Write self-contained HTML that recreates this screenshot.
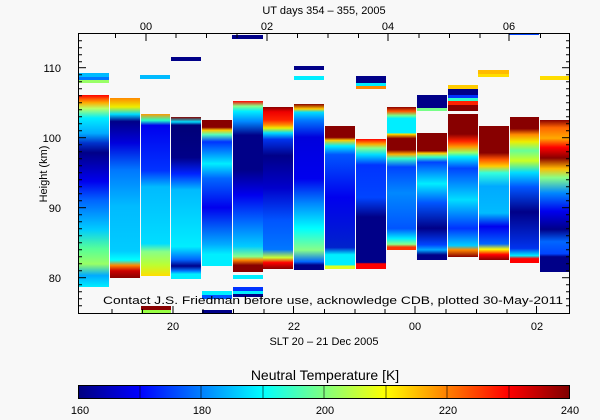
<!DOCTYPE html>
<html><head><meta charset="utf-8"><style>
html,body{margin:0;padding:0;background:#f8f8f8;}
svg{display:block;font-family:"Liberation Sans",sans-serif;}
</style></head><body>
<svg width="600" height="420" viewBox="0 0 600 420" xmlns="http://www.w3.org/2000/svg">
<defs>
<linearGradient id="jet" x1="0" x2="1" y1="0" y2="0">
<stop offset="0" stop-color="#00007f"/><stop offset="0.125" stop-color="#0000ff"/><stop offset="0.25" stop-color="#0080ff"/><stop offset="0.375" stop-color="#00ffff"/><stop offset="0.5" stop-color="#80ff80"/><stop offset="0.625" stop-color="#ffff00"/><stop offset="0.75" stop-color="#ff8000"/><stop offset="0.875" stop-color="#ff0000"/><stop offset="1" stop-color="#7f0000"/>
</linearGradient>
<linearGradient id="c1" gradientUnits="userSpaceOnUse" x1="0" y1="95" x2="0" y2="287"><stop offset="0" stop-color="#f00"/><stop offset="0.04" stop-color="#fa0"/><stop offset="0.07" stop-color="#bf6"/><stop offset="0.12" stop-color="#0ef"/><stop offset="0.2" stop-color="#0af"/><stop offset="0.25" stop-color="#03c"/><stop offset="0.3" stop-color="#008"/><stop offset="0.45" stop-color="#00e"/><stop offset="0.55" stop-color="#06f"/><stop offset="0.7" stop-color="#0cf"/><stop offset="0.8" stop-color="#5f9"/><stop offset="0.88" stop-color="#9f6"/><stop offset="0.94" stop-color="#0af"/><stop offset="1" stop-color="#0ef"/></linearGradient>
<linearGradient id="c2" gradientUnits="userSpaceOnUse" x1="0" y1="98" x2="0" y2="278"><stop offset="0" stop-color="#f80"/><stop offset="0.05" stop-color="#ee0"/><stop offset="0.09" stop-color="#0df"/><stop offset="0.13" stop-color="#008"/><stop offset="0.25" stop-color="#00d"/><stop offset="0.4" stop-color="#07f"/><stop offset="0.6" stop-color="#0bf"/><stop offset="0.85" stop-color="#0cf"/><stop offset="0.9" stop-color="#0ff"/><stop offset="0.93" stop-color="#f80"/><stop offset="0.96" stop-color="#c00"/><stop offset="1" stop-color="#800"/></linearGradient>
<linearGradient id="c3" gradientUnits="userSpaceOnUse" x1="0" y1="114" x2="0" y2="276"><stop offset="0" stop-color="#f90"/><stop offset="0.04" stop-color="#2fc"/><stop offset="0.07" stop-color="#00e"/><stop offset="0.35" stop-color="#03f"/><stop offset="0.45" stop-color="#0bf"/><stop offset="0.8" stop-color="#0df"/><stop offset="0.85" stop-color="#8f8"/><stop offset="0.93" stop-color="#bf3"/><stop offset="1" stop-color="#fd0"/></linearGradient>
<linearGradient id="c4" gradientUnits="userSpaceOnUse" x1="0" y1="117" x2="0" y2="279"><stop offset="0" stop-color="#800"/><stop offset="0.03" stop-color="#0df"/><stop offset="0.05" stop-color="#007"/><stop offset="0.25" stop-color="#008"/><stop offset="0.35" stop-color="#02f"/><stop offset="0.45" stop-color="#0bf"/><stop offset="0.8" stop-color="#0ef"/><stop offset="0.88" stop-color="#06f"/><stop offset="0.92" stop-color="#008"/><stop offset="0.95" stop-color="#07f"/><stop offset="0.97" stop-color="#0ef"/><stop offset="1" stop-color="#0ef"/></linearGradient>
<linearGradient id="c5" gradientUnits="userSpaceOnUse" x1="0" y1="120" x2="0" y2="266"><stop offset="0" stop-color="#800"/><stop offset="0.05" stop-color="#800"/><stop offset="0.07" stop-color="#fc0"/><stop offset="0.1" stop-color="#5fb"/><stop offset="0.15" stop-color="#03f"/><stop offset="0.22" stop-color="#08f"/><stop offset="0.3" stop-color="#0ef"/><stop offset="0.4" stop-color="#06f"/><stop offset="0.6" stop-color="#00e"/><stop offset="0.85" stop-color="#0af"/><stop offset="0.92" stop-color="#0ef"/><stop offset="1" stop-color="#0ef"/></linearGradient>
<linearGradient id="c6" gradientUnits="userSpaceOnUse" x1="0" y1="101" x2="0" y2="272"><stop offset="0" stop-color="#f00"/><stop offset="0.03" stop-color="#8f8"/><stop offset="0.06" stop-color="#0ef"/><stop offset="0.12" stop-color="#08f"/><stop offset="0.2" stop-color="#008"/><stop offset="0.4" stop-color="#008"/><stop offset="0.55" stop-color="#00e"/><stop offset="0.7" stop-color="#06f"/><stop offset="0.85" stop-color="#0cf"/><stop offset="0.91" stop-color="#8f8"/><stop offset="0.93" stop-color="#f80"/><stop offset="0.96" stop-color="#800"/><stop offset="1" stop-color="#800"/></linearGradient>
<linearGradient id="c7" gradientUnits="userSpaceOnUse" x1="0" y1="107" x2="0" y2="269"><stop offset="0" stop-color="#800"/><stop offset="0.03" stop-color="#e00"/><stop offset="0.08" stop-color="#f20"/><stop offset="0.11" stop-color="#f80"/><stop offset="0.13" stop-color="#ee0"/><stop offset="0.16" stop-color="#0df"/><stop offset="0.2" stop-color="#03e"/><stop offset="0.3" stop-color="#008"/><stop offset="0.5" stop-color="#00c"/><stop offset="0.7" stop-color="#05f"/><stop offset="0.88" stop-color="#07f"/><stop offset="0.93" stop-color="#cf3"/><stop offset="0.96" stop-color="#f00"/><stop offset="1" stop-color="#800"/></linearGradient>
<linearGradient id="c8" gradientUnits="userSpaceOnUse" x1="0" y1="104" x2="0" y2="270"><stop offset="0" stop-color="#800"/><stop offset="0.03" stop-color="#fc0"/><stop offset="0.05" stop-color="#0df"/><stop offset="0.1" stop-color="#07f"/><stop offset="0.2" stop-color="#00d"/><stop offset="0.45" stop-color="#00e"/><stop offset="0.6" stop-color="#08f"/><stop offset="0.75" stop-color="#0ff"/><stop offset="0.88" stop-color="#8f8"/><stop offset="0.95" stop-color="#06f"/><stop offset="0.97" stop-color="#008"/><stop offset="1" stop-color="#008"/></linearGradient>
<linearGradient id="c9" gradientUnits="userSpaceOnUse" x1="0" y1="126" x2="0" y2="269"><stop offset="0" stop-color="#800"/><stop offset="0.08" stop-color="#800"/><stop offset="0.1" stop-color="#fc0"/><stop offset="0.14" stop-color="#0ef"/><stop offset="0.2" stop-color="#05f"/><stop offset="0.5" stop-color="#00e"/><stop offset="0.85" stop-color="#02c"/><stop offset="0.9" stop-color="#0ef"/><stop offset="0.97" stop-color="#0ef"/><stop offset="0.98" stop-color="#df2"/><stop offset="1" stop-color="#df2"/></linearGradient>
<linearGradient id="c10" gradientUnits="userSpaceOnUse" x1="0" y1="139" x2="0" y2="269"><stop offset="0" stop-color="#f00"/><stop offset="0.04" stop-color="#fa0"/><stop offset="0.07" stop-color="#8f8"/><stop offset="0.12" stop-color="#0df"/><stop offset="0.2" stop-color="#03f"/><stop offset="0.45" stop-color="#04f"/><stop offset="0.6" stop-color="#008"/><stop offset="0.95" stop-color="#008"/><stop offset="0.96" stop-color="#f00"/><stop offset="1" stop-color="#f00"/></linearGradient>
<linearGradient id="c11" gradientUnits="userSpaceOnUse" x1="0" y1="107" x2="0" y2="250"><stop offset="0" stop-color="#800"/><stop offset="0.03" stop-color="#f50"/><stop offset="0.06" stop-color="#7f8"/><stop offset="0.08" stop-color="#0ef"/><stop offset="0.18" stop-color="#0ef"/><stop offset="0.19" stop-color="#fd0"/><stop offset="0.22" stop-color="#800"/><stop offset="0.3" stop-color="#800"/><stop offset="0.33" stop-color="#fa0"/><stop offset="0.36" stop-color="#3fc"/><stop offset="0.42" stop-color="#04f"/><stop offset="0.6" stop-color="#08f"/><stop offset="0.85" stop-color="#05f"/><stop offset="0.92" stop-color="#0ef"/><stop offset="0.96" stop-color="#8f8"/><stop offset="0.98" stop-color="#f30"/><stop offset="1" stop-color="#f30"/></linearGradient>
<linearGradient id="c12" gradientUnits="userSpaceOnUse" x1="0" y1="133" x2="0" y2="260"><stop offset="0" stop-color="#800"/><stop offset="0.14" stop-color="#800"/><stop offset="0.16" stop-color="#fc0"/><stop offset="0.19" stop-color="#3fc"/><stop offset="0.23" stop-color="#04f"/><stop offset="0.4" stop-color="#0ef"/><stop offset="0.55" stop-color="#05f"/><stop offset="0.75" stop-color="#008"/><stop offset="0.88" stop-color="#04f"/><stop offset="0.92" stop-color="#0af"/><stop offset="0.96" stop-color="#008"/><stop offset="1" stop-color="#008"/></linearGradient>
<linearGradient id="c13" gradientUnits="userSpaceOnUse" x1="0" y1="114" x2="0" y2="257"><stop offset="0" stop-color="#800"/><stop offset="0.14" stop-color="#800"/><stop offset="0.19" stop-color="#f20"/><stop offset="0.23" stop-color="#f90"/><stop offset="0.27" stop-color="#9f6"/><stop offset="0.3" stop-color="#0ef"/><stop offset="0.38" stop-color="#04f"/><stop offset="0.6" stop-color="#0df"/><stop offset="0.8" stop-color="#03f"/><stop offset="0.92" stop-color="#0cf"/><stop offset="0.95" stop-color="#f80"/><stop offset="1" stop-color="#800"/></linearGradient>
<linearGradient id="c14" gradientUnits="userSpaceOnUse" x1="0" y1="126" x2="0" y2="260"><stop offset="0" stop-color="#800"/><stop offset="0.2" stop-color="#800"/><stop offset="0.25" stop-color="#f50"/><stop offset="0.3" stop-color="#fc0"/><stop offset="0.35" stop-color="#3fd"/><stop offset="0.45" stop-color="#0af"/><stop offset="0.65" stop-color="#0bf"/><stop offset="0.75" stop-color="#00e"/><stop offset="0.88" stop-color="#06f"/><stop offset="0.92" stop-color="#ff0"/><stop offset="0.96" stop-color="#f00"/><stop offset="1" stop-color="#800"/></linearGradient>
<linearGradient id="c15" gradientUnits="userSpaceOnUse" x1="0" y1="117" x2="0" y2="263"><stop offset="0" stop-color="#800"/><stop offset="0.08" stop-color="#800"/><stop offset="0.12" stop-color="#f80"/><stop offset="0.17" stop-color="#ee0"/><stop offset="0.23" stop-color="#6f9"/><stop offset="0.3" stop-color="#cf2"/><stop offset="0.38" stop-color="#0df"/><stop offset="0.48" stop-color="#05f"/><stop offset="0.65" stop-color="#008"/><stop offset="0.9" stop-color="#03e"/><stop offset="0.95" stop-color="#0ef"/><stop offset="0.97" stop-color="#f00"/><stop offset="1" stop-color="#f00"/></linearGradient>
<linearGradient id="c16" gradientUnits="userSpaceOnUse" x1="0" y1="120" x2="0" y2="272"><stop offset="0" stop-color="#800"/><stop offset="0.05" stop-color="#f60"/><stop offset="0.12" stop-color="#fa0"/><stop offset="0.18" stop-color="#f00"/><stop offset="0.25" stop-color="#800"/><stop offset="0.32" stop-color="#fb0"/><stop offset="0.38" stop-color="#8f8"/><stop offset="0.48" stop-color="#08f"/><stop offset="0.6" stop-color="#00e"/><stop offset="0.72" stop-color="#008"/><stop offset="0.8" stop-color="#06f"/><stop offset="0.88" stop-color="#04f"/><stop offset="0.9" stop-color="#008"/><stop offset="1" stop-color="#008"/></linearGradient>
</defs>
<rect width="600" height="420" fill="#f8f8f8"/>
<g>
<rect x="78" y="95" width="31" height="192" fill="url(#c1)"/>
<rect x="110" y="98" width="30" height="180" fill="url(#c2)"/>
<rect x="141" y="114" width="29" height="162" fill="url(#c3)"/>
<rect x="171" y="117" width="30" height="162" fill="url(#c4)"/>
<rect x="202" y="120" width="30" height="146" fill="url(#c5)"/>
<rect x="233" y="101" width="30" height="171" fill="url(#c6)"/>
<rect x="263" y="107" width="30" height="162" fill="url(#c7)"/>
<rect x="294" y="104" width="30" height="166" fill="url(#c8)"/>
<rect x="325" y="126" width="30" height="143" fill="url(#c9)"/>
<rect x="356" y="139" width="30" height="130" fill="url(#c10)"/>
<rect x="387" y="107" width="29" height="143" fill="url(#c11)"/>
<rect x="417" y="133" width="30" height="127" fill="url(#c12)"/>
<rect x="448" y="114" width="30" height="143" fill="url(#c13)"/>
<rect x="479" y="126" width="30" height="134" fill="url(#c14)"/>
<rect x="510" y="117" width="29" height="146" fill="url(#c15)"/>
<rect x="540" y="120" width="30" height="152" fill="url(#c16)"/>
<rect x="78" y="73" width="31" height="4" fill="#0bf"/><rect x="78" y="77" width="31" height="3" fill="#07f"/><rect x="78" y="80" width="31" height="3" fill="#9f6"/>
<rect x="140" y="75" width="30" height="4" fill="#0bf"/>
<rect x="171" y="57" width="30" height="4" fill="#008"/>
<rect x="232" y="35" width="31" height="4" fill="#008"/>
<rect x="294" y="66" width="30" height="4" fill="#008"/><rect x="294" y="76" width="30" height="4" fill="#0ef"/>
<rect x="356" y="76" width="30" height="7" fill="#008"/><rect x="356" y="83" width="30" height="3" fill="#0ef"/><rect x="356" y="86" width="30" height="3" fill="#f80"/>
<rect x="417" y="95" width="30" height="13" fill="#008"/><rect x="417" y="108" width="30" height="3" fill="#7f8"/>
<rect x="448" y="85" width="30" height="4" fill="#fc0"/><rect x="448" y="89" width="30" height="6" fill="#008"/><rect x="448" y="95" width="30" height="3" fill="#03f"/><rect x="448" y="98" width="30" height="3" fill="#3fc"/><rect x="448" y="101" width="30" height="4" fill="#f20"/><rect x="448" y="105" width="30" height="6" fill="#800"/>
<rect x="478" y="70" width="31" height="4" fill="#fb0"/><rect x="478" y="74" width="31" height="3" fill="#fd0"/>
<rect x="509" y="33" width="30" height="2" fill="#04f"/>
<rect x="540" y="76" width="30" height="4" fill="#fd0"/>
<rect x="141" y="306" width="30" height="4" fill="#800"/><rect x="141" y="310" width="30" height="3" fill="#9f4"/>
<rect x="202" y="291" width="30" height="4" fill="#0ef"/><rect x="202" y="295" width="30" height="4" fill="#05f"/><rect x="202" y="310" width="30" height="3" fill="#008"/>
<rect x="233" y="275" width="30" height="4" fill="#0ef"/><rect x="233" y="287" width="30" height="4" fill="#03f"/><rect x="233" y="291" width="30" height="3" fill="#0ef"/><rect x="233" y="294" width="30" height="3" fill="#008"/>
</g>
<rect x="78.5" y="33.5" width="491" height="280" fill="none" stroke="#000"/>
<g stroke="#000" stroke-width="1">
<line x1="78" y1="67.7" x2="86" y2="67.7"/><line x1="78" y1="137.7" x2="86" y2="137.7"/><line x1="78" y1="207.7" x2="86" y2="207.7"/><line x1="78" y1="277.7" x2="86" y2="277.7"/>
<line x1="570" y1="67.7" x2="562" y2="67.7"/><line x1="570" y1="137.7" x2="562" y2="137.7"/><line x1="570" y1="207.7" x2="562" y2="207.7"/><line x1="570" y1="277.7" x2="562" y2="277.7"/>
</g>
<path d="M78 40.7h4M78 47.7h4M78 54.7h4M78 61.7h4M78 74.7h4M78 81.7h4M78 88.7h4M78 95.7h4M78 102.7h4M78 109.7h4M78 116.7h4M78 123.7h4M78 130.7h4M78 144.7h4M78 151.7h4M78 158.7h4M78 165.7h4M78 172.7h4M78 179.7h4M78 186.7h4M78 193.7h4M78 200.7h4M78 214.7h4M78 221.7h4M78 228.7h4M78 235.7h4M78 242.7h4M78 249.7h4M78 256.7h4M78 263.7h4M78 270.7h4M78 284.7h4M78 291.7h4M78 298.7h4M78 305.7h4M570 40.7h-4M570 47.7h-4M570 54.7h-4M570 61.7h-4M570 74.7h-4M570 81.7h-4M570 88.7h-4M570 95.7h-4M570 102.7h-4M570 109.7h-4M570 116.7h-4M570 123.7h-4M570 130.7h-4M570 144.7h-4M570 151.7h-4M570 158.7h-4M570 165.7h-4M570 172.7h-4M570 179.7h-4M570 186.7h-4M570 193.7h-4M570 200.7h-4M570 214.7h-4M570 221.7h-4M570 228.7h-4M570 235.7h-4M570 242.7h-4M570 249.7h-4M570 256.7h-4M570 263.7h-4M570 270.7h-4M570 284.7h-4M570 291.7h-4M570 298.7h-4M570 305.7h-4" stroke="#000"/>
<path d="M112 313v-4M142.5 313v-4M203 313v-4M233.5 313v-4M264 313v-4M324.5 313v-4M355 313v-4M385 313v-4M446 313v-4M476.5 313v-4M507 313v-4M173 313v-7M293.5 313v-7M415 313v-7M536.5 313v-7M115.5 34v4M176 34v4M206.5 34v4M237 34v4M297.5 34v4M328 34v4M358.5 34v4M419 34v4M449.5 34v4M480 34v4M540.5 34v4M146 34v7M267 34v7M388 34v7M509 34v7" stroke="#000"/>
<g font-size="11" fill="#000" text-anchor="middle">
<text x="61" y="72" text-anchor="end">110</text><text x="61" y="142" text-anchor="end">100</text><text x="61" y="212" text-anchor="end">90</text><text x="61" y="282" text-anchor="end">80</text>
<text x="146" y="30">00</text><text x="267" y="30">02</text><text x="388" y="30">04</text><text x="509" y="30">06</text>
<text x="324" y="14">UT days 354 – 355, 2005</text>
<text x="173" y="330">20</text><text x="294" y="330">22</text><text x="415" y="330">00</text><text x="537" y="330">02</text>
<text x="324" y="345">SLT 20 – 21 Dec 2005</text>
<text x="0" y="0" transform="translate(47,174) rotate(-90)">Height (km)</text>
<text x="103" y="304" text-anchor="start" textLength="460" lengthAdjust="spacingAndGlyphs">Contact J.S. Friedman before use, acknowledge CDB, plotted 30-May-2011</text>
<text x="325" y="380" font-size="14">Neutral Temperature [K]</text>
<text x="80" y="414">160</text><text x="202" y="414">180</text><text x="325" y="414">200</text><text x="448" y="414">220</text><text x="570" y="414">240</text>
</g>
<rect x="78.5" y="385.5" width="491" height="13" fill="url(#jet)" stroke="#000"/>
<path d="M140 386v12M201 386v12M263 386v12M324 386v12M386 386v12M447 386v12M509 386v12" stroke="#000" stroke-width="0.6"/>
</svg>
</body></html>
